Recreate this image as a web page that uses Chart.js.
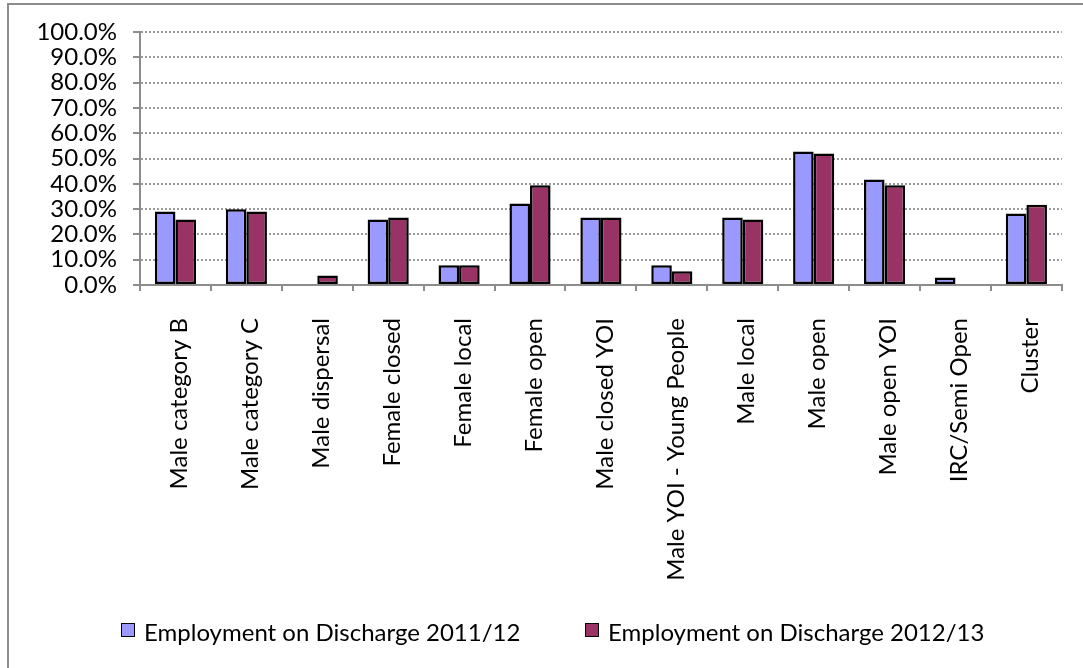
<!DOCTYPE html>
<html>
<head>
<meta charset="utf-8">
<script src="https://cdn.jsdelivr.net/npm/chart.js@4.4.0/dist/chart.umd.min.js"></script>
<style>
    html, body { margin: 0; padding: 0; background: #fff; overflow: hidden; }
    #moldura {
        position: absolute; left: 7px; top: 3px; width: 1200px; height: 800px;
        border-left: 2px solid #8c8c8c; border-top: 2px solid #8c8c8c;
    }
    #area { position: absolute; left: 0; top: 0; width: 1083px; height: 668px; }
    .item-legenda {
        position: absolute; top: 617px; height: 30px; line-height: 30px;
        font-family: Lato, sans-serif; font-size: 24px; color: #000; white-space: nowrap;
    }
    .caixa {
        position: absolute; left: 0; top: 6px; width: 12px; height: 12px;
        border: 1.5px solid #000;
    }
    .texto { position: absolute; left: 23px; top: 0; }
</style>
</head>
<body>
<div id="moldura"></div>
<div id="area"><canvas id="myChart" width="1083" height="668"></canvas></div>
<div id="legenda"></div>
<script>
// Categorias (tipo de prisão)
const categorias = [
    'Male category B', 'Male category C', 'Male dispersal', 'Female closed',
    'Female local', 'Female open', 'Male closed YOI', 'Male YOI - Young People',
    'Male local', 'Male open', 'Male open YOI', 'IRC/Semi Open', 'Cluster'
];

// Emprego na saída (%)
const emprego2011 = [29.1, 29.9, null, 25.9, 7.8, 32.2, 26.7, 7.8, 26.7, 52.8, 41.7, 3.0, 28.3];
const emprego2012 = [25.9, 29.1, 3.8, 26.7, 7.8, 39.4, 26.7, 5.4, 25.9, 52.0, 39.4, null, 31.7];

const marcasY = [0, 10, 20, 30, 40, 50, 60, 70, 80, 90, 100];

const fonte = 'Lato';
const cinza = '#8c8c8c';

// Margens fixas da área do gráfico
const padEsq = 22, padDir = 21, padTopo = 32;
const eixoY = 140, baseX = 285;

var ctx = document.getElementById('myChart').getContext('2d');
const myChart = new Chart(ctx, {
    type: 'bar',
    data: {
        labels: categorias,
        datasets: [{
            label: 'Employment on Discharge 2011/12',
            data: emprego2011,
            backgroundColor: '#9999ff',
            borderColor: '#000000',
            borderWidth: 2.5,
            borderSkipped: false
        }, {
            label: 'Employment on Discharge 2012/13',
            data: emprego2012,
            backgroundColor: '#993366',
            borderColor: '#000000',
            borderWidth: 2.5,
            borderSkipped: false
        }]
    },
    options: {
        responsive: false,
        animation: false,
        devicePixelRatio: 1,
        categoryPercentage: 0.58,
        barPercentage: 1.0,
        layout: {
            padding: { left: padEsq, right: padDir, top: padTopo, bottom: 0 }
        },
        plugins: {
            legend: { display: false },
            tooltip: { enabled: false }
        },
        scales: {
            x: {
                offset: true,
                grid: {
                    offset: true,
                    drawOnChartArea: false,
                    drawTicks: true,
                    tickLength: 6,
                    color: cinza,
                    lineWidth: 2
                },
                border: { color: cinza, width: 2 },
                ticks: {
                    font: { family: fonte, size: 24 },
                    color: '#000',
                    minRotation: 90,
                    maxRotation: 90,
                    padding: 27,
                    labelOffset: 4,
                    autoSkip: false
                },
                afterFit: function(scale) {
                    scale.height = 668 - baseX;
                }
            },
            y: {
                min: 0,
                max: 100,
                grid: {
                    color: '#9a9a9a',
                    lineWidth: 2,
                    tickLength: 7,
                    tickColor: cinza,
                    tickBorderDash: []
                },
                border: { color: cinza, width: 2, dash: [2, 2] },
                ticks: {
                    font: { family: fonte, size: 24 },
                    color: '#000',
                    padding: 16,
                    autoSkip: false,
                    callback: function(v) { return v.toFixed(1) + '%'; }
                },
                afterBuildTicks: function(scale) {
                    scale.ticks = marcasY.map(v => ({ value: v }));
                },
                afterFit: function(scale) {
                    scale.width = eixoY - padEsq;
                }
            }
        }
    }
});

// Legenda montada a partir dos datasets
const posLegenda = [121, 585];
const legenda = document.getElementById('legenda');
myChart.data.datasets.forEach(function(ds, i) {
    const item = document.createElement('div');
    item.className = 'item-legenda';
    item.style.left = posLegenda[i] + 'px';
    item.innerHTML = '<span class="caixa" style="background:' + ds.backgroundColor + '"></span>' +
        '<span class="texto">' + ds.label + '</span>';
    legenda.appendChild(item);
});
</script>
</body>
</html>
